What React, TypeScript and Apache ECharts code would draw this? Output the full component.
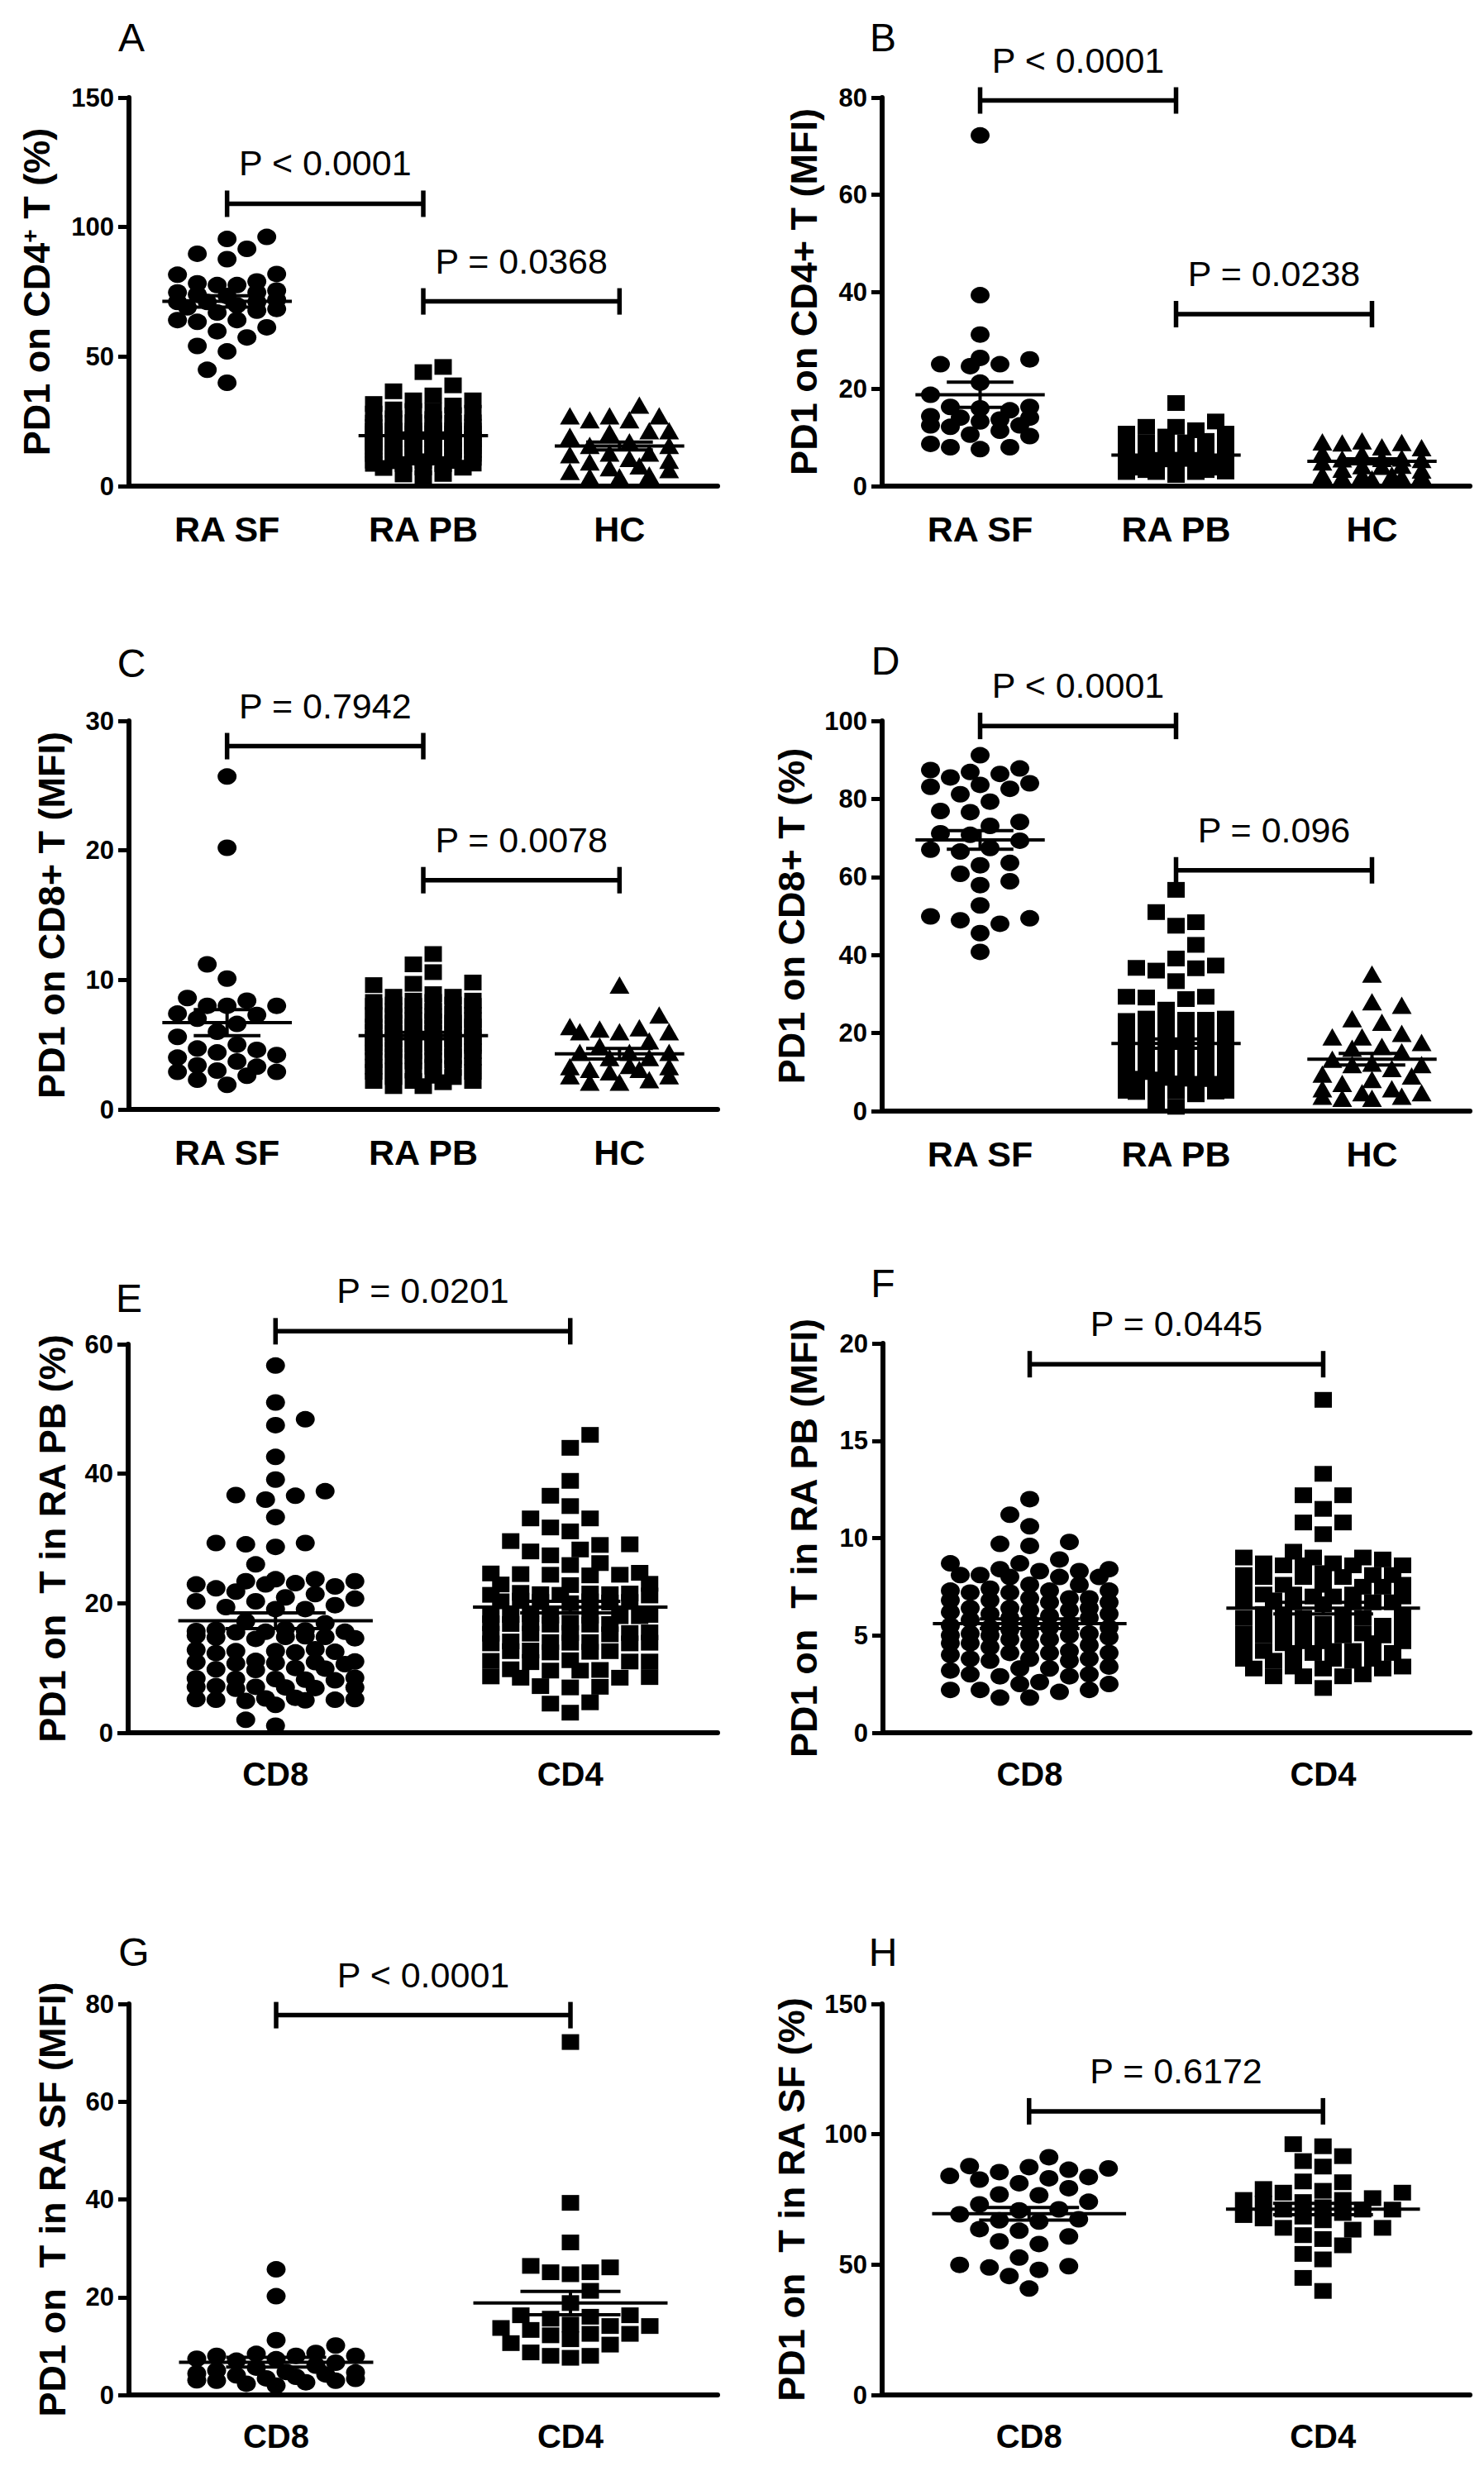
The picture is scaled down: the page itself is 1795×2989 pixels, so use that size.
import React, { useEffect, useRef } from 'react';
import * as echarts from 'echarts';

const FONT = '"Liberation Sans", Arial, Helvetica, sans-serif';

const threeGroups = ['RA SF', 'RA PB', 'HC'];
const twoGroups = ['CD8', 'CD4'];

// PD1+ cells among CD4 T (%)
const sfCd4Pct = [96.2, 95.4, 91.6, 89.7, 87.6, 81.9, 81.6, 79.0, 78.3, 77.6, 77.6, 75.5, 74.8, 74.8, 74.0, 73.4, 72.0, 71.1, 71.1, 71.1, 69.8, 69.0, 68.4, 67.7, 67.0, 64.1, 64.1, 63.4, 61.3, 59.8, 57.4, 54.1, 52.0, 44.9, 39.9];
const pbCd4Pct = [46.0, 44.0, 38.9, 36.6, 35.0, 33.1, 33.1, 31.7, 31.1, 29.6, 29.1, 29.0, 28.3, 28.0, 27.4, 26.2, 25.9, 24.7, 24.6, 24.5, 24.4, 24.4, 24.3, 23.0, 22.9, 22.8, 21.6, 21.5, 21.5, 21.4, 21.4, 21.3, 21.3, 21.2, 20.4, 20.3, 20.3, 20.2, 20.2, 20.1, 20.0, 18.3, 18.2, 18.2, 18.2, 18.1, 18.1, 18.0, 18.0, 17.0, 16.9, 16.9, 16.8, 16.8, 16.7, 16.7, 15.5, 15.4, 15.4, 15.3, 15.3, 15.2, 14.1, 14.0, 14.0, 13.9, 13.9, 13.8, 13.8, 12.7, 12.6, 12.6, 12.5, 12.4, 11.2, 11.1, 11.0, 11.0, 10.9, 9.8, 9.7, 9.6, 9.6, 8.7, 8.6, 8.5, 8.5, 7.2, 7.1, 7.0, 4.7, 4.5, 3.1];
const hcCd4Pct = [31.3, 27.1, 27.1, 27.1, 25.6, 25.6, 21.4, 21.4, 20.7, 19.2, 17.1, 15.7, 15.7, 12.8, 12.8, 12.1, 10.7, 10.0, 9.3, 7.8, 7.1, 6.4, 5.7, 4.3, 3.6, 3.6];

// PD1 MFI on CD4 T
const sfCd4Mfi = [72.2, 39.3, 31.2, 26.4, 26.1, 25.1, 25.1, 24.7, 21.3, 18.8, 16.3, 16.3, 16.0, 15.6, 14.4, 14.1, 14.1, 13.7, 13.3, 12.5, 12.5, 12.2, 11.4, 10.6, 10.3, 8.7, 8.0, 8.0, 7.6];
const pbCd4Mfi = [17.1, 13.3, 12.2, 12.2, 11.5, 10.8, 10.8, 10.2, 9.3, 9.0, 9.0, 9.0, 8.9, 8.7, 8.7, 8.6, 8.6, 8.6, 8.6, 8.2, 8.1, 8.1, 8.1, 8.0, 8.0, 8.0, 7.6, 7.6, 7.6, 7.5, 7.5, 7.5, 7.1, 7.1, 7.1, 7.0, 7.0, 7.0, 6.8, 6.8, 6.7, 6.7, 6.7, 6.7, 6.6, 6.1, 6.0, 6.0, 6.0, 5.9, 5.9, 5.9, 5.6, 5.5, 5.5, 5.5, 5.4, 5.4, 5.4, 5.1, 5.1, 5.1, 5.1, 5.0, 5.0, 5.0, 4.7, 4.7, 4.7, 4.6, 4.6, 4.6, 4.2, 4.2, 4.2, 4.1, 4.1, 4.1, 3.8, 3.8, 3.8, 3.7, 3.7, 3.4, 3.4, 3.3, 3.3, 3.3, 3.0, 2.9, 2.9, 2.9, 2.3];
const hcCd4Mfi = [9.3, 9.1, 9.0, 8.9, 8.1, 7.9, 6.9, 6.7, 5.8, 5.7, 5.6, 5.5, 5.0, 4.3, 4.2, 4.1, 3.5, 3.3, 2.4, 2.3, 2.3, 2.2, 2.2, 1.9, 1.9, 1.5];

// PD1 MFI on CD8 T
const sfCd8Mfi = [25.7, 20.2, 11.2, 10.1, 8.6, 8.4, 8.0, 8.0, 8.0, 7.4, 7.3, 7.0, 6.6, 6.0, 5.6, 5.0, 4.7, 4.6, 4.4, 4.2, 4.0, 3.7, 3.4, 3.3, 3.0, 2.9, 2.9, 2.6, 2.3, 1.9];
const pbCd8Mfi = [12.0, 11.2, 10.6, 9.8, 9.7, 9.6, 8.9, 8.7, 8.7, 8.4, 8.4, 8.3, 8.3, 8.1, 8.1, 8.0, 8.0, 8.0, 7.6, 7.6, 7.4, 7.3, 7.3, 7.3, 7.2, 7.2, 6.9, 6.9, 6.9, 6.8, 6.8, 6.7, 6.7, 6.4, 6.4, 6.4, 6.3, 6.3, 6.2, 6.1, 6.1, 6.0, 5.9, 5.9, 5.8, 5.7, 5.6, 5.5, 5.4, 5.4, 5.4, 5.3, 5.1, 5.1, 5.1, 5.0, 5.0, 5.0, 4.9, 4.8, 4.8, 4.6, 4.6, 4.5, 4.5, 4.4, 4.2, 4.1, 4.1, 4.1, 4.0, 3.8, 3.8, 3.8, 3.7, 3.7, 3.4, 3.3, 3.3, 3.2, 3.0, 3.0, 2.9, 2.9, 2.6, 2.5, 2.5, 2.2, 2.2, 2.2, 2.1, 1.8, 1.8];
const hcCd8Mfi = [9.6, 7.3, 6.4, 6.3, 6.2, 6.0, 6.0, 6.0, 5.3, 4.9, 4.4, 4.4, 4.4, 4.0, 4.0, 3.4, 3.3, 3.3, 3.1, 3.1, 2.9, 2.6, 2.6, 2.3, 2.1, 2.1];

// PD1+ cells among CD8 T (%)
const sfCd8Pct = [91.2, 87.8, 87.4, 86.9, 86.4, 85.5, 84.0, 83.6, 83.1, 82.6, 81.2, 79.3, 76.9, 76.6, 74.1, 73.1, 71.2, 70.8, 69.3, 67.4, 67.0, 66.5, 63.6, 63.0, 60.8, 58.9, 57.9, 52.7, 49.9, 49.4, 48.9, 48.0, 45.6, 40.8];
const pbCd8Pct = [56.7, 51.0, 48.4, 47.5, 42.6, 39.1, 37.3, 36.7, 36.6, 36.0, 33.3, 29.3, 29.3, 29.1, 28.7, 26.0, 23.7, 23.7, 23.4, 23.4, 23.1, 22.9, 22.9, 22.6, 22.3, 21.8, 21.4, 20.9, 20.7, 20.3, 20.3, 19.7, 19.4, 19.1, 19.1, 17.2, 16.9, 16.0, 15.9, 15.8, 15.7, 15.6, 15.6, 15.5, 15.0, 14.9, 14.8, 14.8, 14.7, 14.6, 14.5, 12.9, 12.8, 12.6, 12.6, 12.5, 12.4, 12.3, 11.1, 11.0, 10.9, 10.9, 10.8, 10.7, 10.6, 10.0, 9.9, 9.8, 9.7, 8.5, 8.4, 8.3, 8.3, 8.2, 8.1, 7.2, 7.1, 7.1, 7.0, 7.0, 6.9, 6.8, 5.4, 5.3, 5.2, 5.2, 5.1, 5.1, 5.0, 4.9, 4.3, 2.0, 1.1];
const hcCd8Pct = [35.1, 28.0, 27.1, 23.7, 22.8, 19.9, 19.0, 19.0, 17.6, 16.6, 16.1, 15.2, 13.3, 12.3, 11.9, 11.9, 10.9, 9.5, 9.0, 8.1, 7.1, 5.7, 5.7, 4.7, 4.7, 3.8, 3.8, 3.3, 3.3];

// mean and SEM as drawn
const statsA = [[71.3, 2.2], [19.5, 1.0], [15.5, 1.5]];
const statsB = [[18.8, 2.6], [6.4, 0.3], [5.1, 0.5]];
const statsC = [[6.7, 1.0], [5.7, 0.25], [4.3, 0.4]];
const statsD = [[69.5, 2.4], [17.3, 1.2], [13.3, 1.5]];
const statsE = [[17.3, 1.2], [19.4, 0.9]];
const statsF = [[5.6, 0.25], [6.4, 0.3]];
const statsG = [[6.7, 1.0], [18.8, 2.4]];
const statsH = [[69.5, 2.4], [71.3, 2.2]];

// significance brackets: height on the y scale and label
const levelsA = [109, 71.3];
const textsA = ['P < 0.0001', 'P = 0.0368'];
const levelsB = [79.4, 35.4];
const textsB = ['P < 0.0001', 'P = 0.0238'];
const levelsC = [28.05, 17.7];
const textsC = ['P = 0.7942', 'P = 0.0078'];
const levelsD = [98.7, 61.7];
const textsD = ['P < 0.0001', 'P = 0.096'];
const levelsE = [62.0];
const textsE = ['P = 0.0201'];
const levelsF = [18.93];
const textsF = ['P = 0.0445'];
const levelsG = [77.7];
const textsG = ['P < 0.0001'];
const levelsH = [108.8];
const textsH = ['P = 0.6172'];

const SYMBOL_SIZE: Record<string, number[]> = {
  circle: [23, 20],
  rect: [21, 19],
  triangle: [24, 21]
};

const panels = [
  { letter: 'A', at: [159, 45], grid: { left: 156, top: 118, width: 712, height: 470 }, yMax: 150, yStep: 50, title: 'PD1 on CD4{sup|+} T (%)', nameGap: 89, cats: threeGroups, catFont: 43, groups: [sfCd4Pct, pbCd4Pct, hcCd4Pct], symbols: ['circle', 'rect', 'triangle'], stats: statsA, levels: levelsA, texts: textsA },
  { letter: 'B', at: [1068, 45], grid: { left: 1067, top: 118, width: 711, height: 470 }, yMax: 80, yStep: 20, title: 'PD1 on CD4+ T (MFI)', nameGap: 72, cats: threeGroups, catFont: 43, groups: [sfCd4Mfi, pbCd4Mfi, hcCd4Mfi], symbols: ['circle', 'rect', 'triangle'], stats: statsB, levels: levelsB, texts: textsB },
  { letter: 'C', at: [159, 802], grid: { left: 156, top: 872, width: 712, height: 470 }, yMax: 30, yStep: 10, title: 'PD1 on CD8+ T (MFI)', nameGap: 71, cats: threeGroups, catFont: 43, groups: [sfCd8Mfi, pbCd8Mfi, hcCd8Mfi], symbols: ['circle', 'rect', 'triangle'], stats: statsC, levels: levelsC, texts: textsC },
  { letter: 'D', at: [1071, 799], grid: { left: 1067, top: 872, width: 711, height: 472 }, yMax: 100, yStep: 20, title: 'PD1 on CD8+ T (%)', nameGap: 87, cats: threeGroups, catFont: 43, groups: [sfCd8Pct, pbCd8Pct, hcCd8Pct], symbols: ['circle', 'rect', 'triangle'], stats: statsD, levels: levelsD, texts: textsD },
  { letter: 'E', at: [156, 1570], grid: { left: 155, top: 1626, width: 713, height: 470 }, yMax: 60, yStep: 20, title: 'PD1 on  T in RA PB (%)', nameGap: 69, cats: twoGroups, catFont: 40, groups: [pbCd8Pct, pbCd4Pct], symbols: ['circle', 'rect'], stats: statsE, levels: levelsE, texts: textsE },
  { letter: 'F', at: [1068, 1552], grid: { left: 1068, top: 1625, width: 710, height: 471 }, yMax: 20, yStep: 5, title: 'PD1 on  T in RA PB (MFI)', nameGap: 73, cats: twoGroups, catFont: 40, groups: [pbCd8Mfi, pbCd4Mfi], symbols: ['circle', 'rect'], stats: statsF, levels: levelsF, texts: textsF },
  { letter: 'G', at: [162, 2361], grid: { left: 156, top: 2424, width: 712, height: 473 }, yMax: 80, yStep: 20, title: 'PD1 on  T in RA SF (MFI)', nameGap: 70, cats: twoGroups, catFont: 40, groups: [sfCd8Mfi, sfCd4Mfi], symbols: ['circle', 'rect'], stats: statsG, levels: levelsG, texts: textsG },
  { letter: 'H', at: [1068, 2361], grid: { left: 1067, top: 2424, width: 711, height: 473 }, yMax: 150, yStep: 50, title: 'PD1 on  T in RA SF (%)', nameGap: 87, cats: twoGroups, catFont: 40, groups: [sfCd8Pct, sfCd4Pct], symbols: ['circle', 'rect'], stats: statsH, levels: levelsH, texts: textsH }
];

// column-scatter layout: each point goes to the free horizontal slot nearest the centre
function swarmOffsets(values: number[], pxPerUnit: number, bandPx: number, size: number[]): number[] {
  const slot = 12;
  const maxSlot = Math.floor((bandPx * 0.28) / slot);
  const cands: number[] = [0];
  for (let s = 1; s <= maxSlot; s++) cands.push(s * slot, -s * slot);
  const order = values.map((_, i) => i).sort((a, b) => values[a] - values[b]);
  const placed: number[][] = [];
  const out: number[] = new Array(values.length).fill(0);
  const sx = size[0] * 1.15;
  const sy = size[1] * 1.1;
  order.forEach((id, n) => {
    const y = values[id] * pxPerUnit;
    let best = 0;
    let bestCost = Infinity;
    for (const c0 of cands) {
      const c = n % 2 ? -c0 : c0;
      let cost = 0;
      for (const [px, py] of placed) {
        const d = Math.hypot((px - c) / sx, (py - y) / sy);
        if (d < 1) cost += 1 - d;
      }
      if (cost < bestCost - 1e-9) {
        bestCost = cost;
        best = c;
      }
      if (cost === 0) break;
    }
    placed.push([best, y]);
    out[id] = best / bandPx;
  });
  return out;
}

const App: React.FC = () => {
  const chartRef = useRef<HTMLDivElement>(null);

  useEffect(() => {
    if (!chartRef.current) return;
    const chart = echarts.init(chartRef.current, undefined, { renderer: 'svg' });

    const grids: any[] = [];
    const xAxes: any[] = [];
    const yAxes: any[] = [];
    const series: any[] = [];
    const black = '#000';

    panels.forEach((p, i) => {
      const n = p.cats.length;
      const bandPx = p.grid.width / n;
      const pxPerUnit = p.grid.height / p.yMax;
      grids.push({ ...p.grid });

      xAxes.push({
        gridIndex: i,
        type: 'category',
        data: p.cats,
        boundaryGap: true,
        axisLine: { onZero: false, lineStyle: { color: black, width: 6 } },
        axisTick: { alignWithLabel: true, length: 16, lineStyle: { color: black, width: 5 } },
        axisLabel: { interval: 0, color: black, fontFamily: FONT, fontWeight: 'bold', fontSize: p.catFont, margin: 30 },
        splitLine: { show: false }
      });
      xAxes.push({ gridIndex: i, type: 'value', min: 0, max: n, show: false });

      yAxes.push({
        gridIndex: i,
        type: 'value',
        min: 0,
        max: p.yMax,
        interval: p.yStep,
        name: p.title,
        nameLocation: 'middle',
        nameGap: p.nameGap,
        nameTextStyle: {
          color: black,
          fontFamily: FONT,
          fontWeight: 'bold',
          fontSize: 45,
          rich: { sup: { color: black, fontFamily: FONT, fontWeight: 'bold', fontSize: 28, verticalAlign: 'top' } }
        },
        axisLine: { show: true, onZero: false, lineStyle: { color: black, width: 6 } },
        axisTick: { show: true, length: 13, lineStyle: { color: black, width: 5 } },
        axisLabel: { color: black, fontFamily: FONT, fontWeight: 'bold', fontSize: 31, margin: 18 },
        splitLine: { show: false }
      });

      p.groups.forEach((vals, g) => {
        const sym = p.symbols[g];
        const offs = swarmOffsets(vals, pxPerUnit, bandPx, SYMBOL_SIZE[sym]);
        series.push({
          type: 'scatter',
          xAxisIndex: 2 * i + 1,
          yAxisIndex: i,
          symbol: sym,
          symbolSize: SYMBOL_SIZE[sym],
          itemStyle: { color: black, opacity: 1 },
          silent: true,
          z: 2,
          data: vals.map((v, k) => [g + 0.5 + offs[k], v])
        });
      });

      // mean with SEM
      series.push({
        type: 'custom',
        xAxisIndex: 2 * i + 1,
        yAxisIndex: i,
        z: 3,
        silent: true,
        encode: { x: 0, y: 1 },
        data: p.stats.map((s, g) => [g + 0.5, s[0], s[1]]),
        renderItem: (params: any, api: any) => {
          const x = api.value(0);
          const m = api.value(1);
          const se = api.value(2);
          const c = api.coord([x, m]);
          const hi = api.coord([x, m + se]);
          const lo = api.coord([x, m - se]);
          const band = api.size([1, 0])[0];
          const st = { stroke: black, lineWidth: 4 };
          return {
            type: 'group',
            children: [
              { type: 'line', shape: { x1: c[0] - band * 0.33, y1: c[1], x2: c[0] + band * 0.33, y2: c[1] }, style: st },
              { type: 'line', shape: { x1: c[0] - band * 0.17, y1: hi[1], x2: c[0] + band * 0.17, y2: hi[1] }, style: st },
              { type: 'line', shape: { x1: c[0] - band * 0.17, y1: lo[1], x2: c[0] + band * 0.17, y2: lo[1] }, style: st },
              { type: 'line', shape: { x1: c[0], y1: hi[1], x2: c[0], y2: lo[1] }, style: st }
            ]
          };
        }
      });

      // significance brackets
      series.push({
        type: 'custom',
        xAxisIndex: 2 * i + 1,
        yAxisIndex: i,
        z: 4,
        silent: true,
        clip: false,
        encode: { x: [0, 1], y: 2 },
        data: p.levels.map((lv, b) => [b + 0.5, b + 1.5, lv]),
        renderItem: (params: any, api: any) => {
          const a = api.coord([api.value(0), api.value(2)]);
          const e = api.coord([api.value(1), api.value(2)]);
          const st = { stroke: black, lineWidth: 5.5 };
          return {
            type: 'group',
            children: [
              { type: 'line', shape: { x1: a[0], y1: a[1], x2: e[0], y2: e[1] }, style: st },
              { type: 'line', shape: { x1: a[0], y1: a[1] - 16, x2: a[0], y2: a[1] + 16 }, style: st },
              { type: 'line', shape: { x1: e[0], y1: e[1] - 16, x2: e[0], y2: e[1] + 16 }, style: st },
              {
                type: 'text',
                x: (a[0] + e[0]) / 2,
                y: a[1] - 49,
                style: {
                  text: p.texts[params.dataIndex],
                  fill: black,
                  fontFamily: FONT,
                  fontSize: 43,
                  align: 'center',
                  verticalAlign: 'middle',
                  textAlign: 'center',
                  textVerticalAlign: 'middle'
                }
              }
            ]
          };
        }
      });
    });

    const option: any = {
      animation: false,
      backgroundColor: '#fff',
      grid: grids,
      xAxis: xAxes,
      yAxis: yAxes,
      series,
      graphic: panels.map((p) => ({
        type: 'text',
        x: p.at[0],
        y: p.at[1],
        style: {
          text: p.letter,
          fill: black,
          fontFamily: FONT,
          fontSize: 48,
          align: 'center',
          verticalAlign: 'middle',
          textAlign: 'center',
          textVerticalAlign: 'middle'
        }
      }))
    };

    chart.setOption(option);

    return () => {
      chart.dispose();
    };
  }, []);

  return (
    <div
      ref={chartRef}
      style={{ position: 'absolute', left: 0, top: 0, width: '1795px', height: '2989px', background: '#fff' }}
    />
  );
};

export default App;
